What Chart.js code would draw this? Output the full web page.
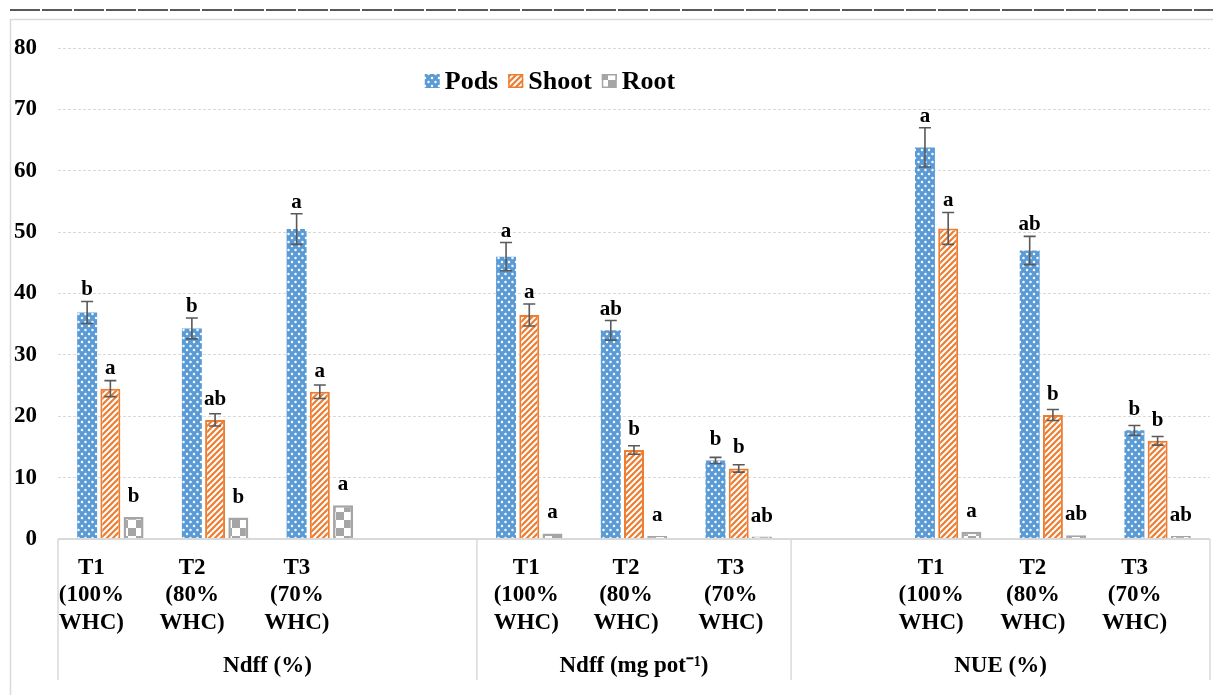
<!DOCTYPE html>
<html>
<head>
<meta charset="utf-8">
<script src="https://cdn.jsdelivr.net/npm/chart.js@4.4.1/dist/chart.umd.min.js"></script>
<style>
  html, body { margin: 0; padding: 0; background: #fff; }
  #wrap { position: relative; width: 1213px; height: 695px; }
</style>
</head>
<body>
<div id="wrap"><canvas id="chart" width="1213" height="695"></canvas></div>
<script>
// categories (empty slots keep the Excel spacing between groups)
const categories = [
    ['T1', '(100%', 'WHC)'], ['T2', '(80%', 'WHC)'], ['T3', '(70%', 'WHC)'], [],
    ['T1', '(100%', 'WHC)'], ['T2', '(80%', 'WHC)'], ['T3', '(70%', 'WHC)'],
    [], ['T1', '(100%', 'WHC)'], ['T2', '(80%', 'WHC)'], ['T3', '(70%', 'WHC)']
];
const groupNames = ['Ndff (%)', 'Ndff (mg pot\u207B\u00B9)', 'NUE (%)'];
const groupSizes = [4, 3, 4];

const seriesNames = ['Pods', 'Shoot', 'Root'];
const pods     = [36.9, 34.3, 50.5, null, 46.0, 34.0, 12.8, null, 63.8, 47.0, 17.7];
const podsErr  = [1.8, 1.7, 2.5, null, 2.3, 1.6, 0.5, null, 3.2, 2.3, 0.8];
const shoot    = [24.5, 19.4, 24.0, null, 36.5, 14.5, 11.5, null, 50.6, 20.2, 16.0];
const shootErr = [1.3, 1.0, 1.1, null, 1.8, 0.7, 0.6, null, 2.6, 0.9, 0.7];
const root     = [3.6, 3.5, 5.5, null, 0.9, 0.5, 0.4, null, 1.2, 0.6, 0.5];

const podsSig  = ['b', 'b', 'a', null, 'a', 'ab', 'b', null, 'a', 'ab', 'b'];
const shootSig = ['a', 'ab', 'a', null, 'a', 'b', 'b', null, 'a', 'b', 'b'];
const rootSig  = ['b', 'b', 'a', null, 'a', 'a', 'ab', null, 'a', 'ab', 'ab'];

const yTicks = [0, 10, 20, 30, 40, 50, 60, 70, 80];

const SERIF = "'Liberation Serif', 'Times New Roman', serif";
// the Excel category labels sit a little left of the bar groups
const labelShift = [-19, -23, -23, 0, -3, -8, -8, 0, -17, -20, -23];

const canvas = document.getElementById('chart');
const ctx = canvas.getContext('2d');

function makeTile(w, h, draw) {
    const c = document.createElement('canvas');
    c.width = w; c.height = h;
    draw(c.getContext('2d'));
    return ctx.createPattern(c, 'repeat');
}

const dotFill = makeTile(7, 8, g => {
    g.fillStyle = '#5b9bd5';
    g.fillRect(0, 0, 7, 8);
    g.fillStyle = 'rgba(255,255,255,0.95)';
    [[1.5, 2], [5, 6]].forEach(([x, y]) => {
        g.beginPath(); g.arc(x, y, 1.25, 0, Math.PI * 2); g.fill();
    });
});

const stripeFill = makeTile(6, 6, g => {
    g.fillStyle = '#ed7d31';
    g.fillRect(0, 0, 6, 6);
    g.strokeStyle = '#ffffff';
    g.lineWidth = 2;
    [[0, 6, 6, 0], [-3, 3, 3, -3], [3, 9, 9, 3]].forEach(([a, b, c, d]) => {
        g.beginPath(); g.moveTo(a, b); g.lineTo(c, d); g.stroke();
    });
});

const checkFill = makeTile(16, 16, g => {
    g.fillStyle = '#ffffff';
    g.fillRect(0, 0, 16, 16);
    g.fillStyle = '#a5a5a5';
    g.fillRect(0, 0, 8, 8);
    g.fillRect(8, 8, 8, 8);
});

// frame and the dark rule above the chart
const framePlugin = {
    id: 'frame',
    beforeDraw(chart) {
        const c = chart.ctx;
        c.save();
        c.strokeStyle = '#595959';
        c.lineWidth = 2;
        c.setLineDash([30, 2]);
        c.beginPath(); c.moveTo(10, 10); c.lineTo(chart.width, 10); c.stroke();
        c.setLineDash([]);
        c.strokeStyle = '#d9d9d9';
        c.lineWidth = 1.5;
        c.beginPath();
        c.moveTo(chart.width, 19.5); c.lineTo(10.5, 19.5); c.lineTo(10.5, chart.height);
        c.stroke();
        c.restore();
    }
};

// error bars and significance letters
const errorPlugin = {
    id: 'errors',
    afterDatasetsDraw(chart) {
        const c = chart.ctx;
        const y = chart.scales.y;
        c.save();
        chart.data.datasets.forEach((ds, di) => {
            const meta = chart.getDatasetMeta(di);
            meta.data.forEach((bar, i) => {
                const v = ds.data[i];
                if (v == null) return;
                const e = ds.err ? ds.err[i] : 0;
                const top = y.getPixelForValue(v + (e || 0));
                if (e) {
                    const bot = y.getPixelForValue(v - e);
                    c.strokeStyle = '#595959';
                    c.lineWidth = 1.6;
                    c.beginPath();
                    c.moveTo(bar.x, top); c.lineTo(bar.x, bot);
                    c.moveTo(bar.x - 6, top); c.lineTo(bar.x + 6, top);
                    c.moveTo(bar.x - 6, bot); c.lineTo(bar.x + 6, bot);
                    c.stroke();
                }
                const s = ds.sig[i];
                if (s) {
                    c.fillStyle = '#000';
                    c.font = 'bold 21px ' + SERIF;
                    c.textAlign = 'center';
                    c.textBaseline = 'alphabetic';
                    c.fillText(s, bar.x, Math.min(bar.y - 15, top - 6));
                }
            });
        });
        c.restore();
    }
};

// two-level category axis drawn under the plot
const axisPlugin = {
    id: 'multiAxis',
    afterDraw(chart) {
        const c = chart.ctx;
        const a = chart.chartArea;
        const x = chart.scales.x;
        const base = a.bottom;
        c.save();
        c.strokeStyle = '#d9d9d9';
        c.lineWidth = 2;
        c.beginPath(); c.moveTo(a.left, base); c.lineTo(a.right, base); c.stroke();

        const edges = [a.left];
        let n = 0;
        groupSizes.forEach(k => {
            n += k;
            edges.push(n >= categories.length ? a.right
                : (x.getPixelForValue(n - 1) + x.getPixelForValue(n)) / 2);
        });
        c.lineWidth = 1.5;
        edges.forEach(px => {
            c.beginPath(); c.moveTo(px, base); c.lineTo(px, base + 141); c.stroke();
        });

        c.fillStyle = '#000';
        c.font = 'bold 23px ' + SERIF;
        c.textAlign = 'center';
        c.textBaseline = 'middle';
        categories.forEach((lines, i) => {
            const cx = x.getPixelForValue(i) + labelShift[i];
            lines.forEach((t, k) => c.fillText(t, cx, base + 29 + k * 27.5));
        });
        groupNames.forEach((g, i) => {
            c.fillText(g, (edges[i] + edges[i + 1]) / 2, base + 127);
        });
        c.restore();
    }
};

// legend floating inside the plot
const legendPlugin = {
    id: 'floatLegend',
    afterDraw(chart) {
        const c = chart.ctx;
        c.save();
        c.font = 'bold 26px ' + SERIF;
        const ds = chart.data.datasets;
        const widths = ds.map(d => c.measureText(d.label).width);
        const total = widths.reduce((s, w) => s + 20 + w, 0) + 10 * (ds.length - 1);
        let px = 550 - total / 2;
        ds.forEach((d, i) => {
            c.fillStyle = d.backgroundColor;
            c.fillRect(px, 74, 15, 14);
            if (d.borderWidth) {
                c.strokeStyle = d.borderColor;
                c.lineWidth = 1.5;
                c.strokeRect(px + 0.75, 74.75, 13.5, 12.5);
            }
            c.fillStyle = '#000';
            c.textAlign = 'left';
            c.textBaseline = 'middle';
            c.fillText(d.label, px + 20, 82);
            px += 20 + widths[i] + 10;
        });
        c.restore();
    }
};

new Chart(ctx, {
    type: 'bar',
    data: {
        labels: categories,
        datasets: [
            { label: seriesNames[0], data: pods, err: podsErr, sig: podsSig,
              backgroundColor: dotFill, borderWidth: 0 },
            { label: seriesNames[1], data: shoot, err: shootErr, sig: shootSig,
              backgroundColor: stripeFill, borderColor: '#ed7d31', borderWidth: 2 },
            { label: seriesNames[2], data: root, err: null, sig: rootSig,
              backgroundColor: checkFill, borderColor: '#a5a5a5', borderWidth: 2.5 }
        ]
    },
    options: {
        responsive: false,
        animation: false,
        categoryPercentage: 0.665,
        barPercentage: 0.86,
        layout: { padding: { left: 10, right: 3, top: 48, bottom: 156 } },
        plugins: {
            legend: { display: false },
            tooltip: { enabled: false }
        },
        scales: {
            x: { display: false },
            y: {
                min: 0,
                max: 80,
                afterBuildTicks: s => { s.ticks = yTicks.map(v => ({ value: v })); },
                afterFit: s => { s.width = 48; },
                ticks: {
                    padding: 21,
                    color: '#000',
                    font: { family: SERIF, size: 23, weight: 'bold' }
                },
                grid: { color: '#d9d9d9', lineWidth: 1, drawTicks: false },
                border: { display: false, dash: [3, 2] }
            }
        }
    },
    plugins: [framePlugin, errorPlugin, axisPlugin, legendPlugin]
});
</script>
</body>
</html>
